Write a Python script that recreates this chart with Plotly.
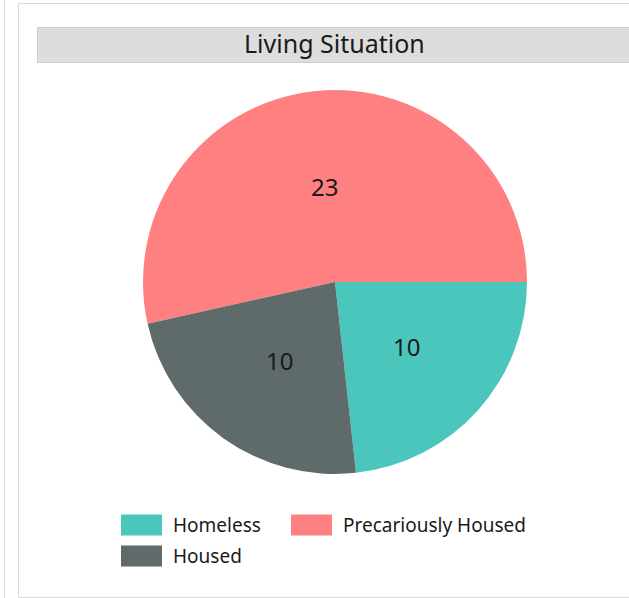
import numpy as np
import plotly.graph_objects as go

# Living situation breakdown
categories = ["Homeless", "Precariously Housed", "Housed"]
counts = [10, 23, 10]
colors = ["#4BC6BC", "#FF8080", "#5F6A6A"]

W, H = 629, 598
FONT = "Noto Sans"


def px_x(x):
    return x / W


def px_y(y):
    return 1 - y / H


fig = go.Figure()

total = sum(counts)
# Counterclockwise pie: the first slice ends at 3 o'clock (rotation=90)
rotation = 90

cx, cy, r = 335, 282, 192
fig.add_trace(go.Pie(
    labels=categories,
    values=counts,
    sort=False,
    direction="counterclockwise",
    rotation=rotation,
    marker=dict(colors=colors, line=dict(width=0)),
    textinfo="none",
    domain=dict(x=[px_x(cx - r), px_x(cx + r)], y=[px_y(cy + r), px_y(cy - r)]),
    showlegend=False,
    hoverinfo="label+value",
))

shapes = []
# outer panel frame and faint left edge line
shapes.append(dict(type="rect", xref="paper", yref="paper",
                   x0=px_x(18.5), x1=px_x(660), y0=px_y(597.5), y1=px_y(3.5),
                   line=dict(color="#d9d9d9", width=1), fillcolor="rgba(0,0,0,0)", layer="below"))
shapes.append(dict(type="line", xref="paper", yref="paper",
                   x0=px_x(4.5), x1=px_x(4.5), y0=px_y(0), y1=px_y(598),
                   line=dict(color="#dcdcdc", width=1)))
# title bar
shapes.append(dict(type="rect", xref="paper", yref="paper",
                   x0=px_x(37.5), x1=px_x(631), y0=px_y(62.5), y1=px_y(27.5),
                   line=dict(color="#cfcfcf", width=1), fillcolor="#dddddd", layer="below"))

annotations = [dict(text="Living Situation", xref="paper", yref="paper",
                    x=px_x(334), y=px_y(43), xanchor="center", yanchor="middle",
                    showarrow=False, font=dict(family=FONT, size=25, color="#1a1a1a"))]

# slice values, placed halfway out along each slice's bisector
# (math angle, counterclockwise from 3 o'clock; the first slice starts one slice-width below 3 o'clock)
start = 90 - rotation - 360 * counts[0] / total
cum = np.cumsum([0] + counts[:-1])
for v, c0 in zip(counts, cum):
    ang = np.deg2rad(start + 360 * (c0 + v / 2) / total)
    tx = cx + 0.5 * r * np.cos(ang)
    ty = cy - 0.5 * r * np.sin(ang)
    annotations.append(dict(text=str(v), xref="paper", yref="paper",
                            x=px_x(tx), y=px_y(ty), xanchor="center", yanchor="middle",
                            showarrow=False, font=dict(family=FONT, size=24, color="#1a1a1a")))

# legend: colour swatch followed by its category name, two per row
legend_slots = [(121, 525), (291, 525), (121, 556)]
sw_w, sw_h = 41, 21
for (lx, ly), name, col in zip(legend_slots, categories, colors):
    shapes.append(dict(type="rect", xref="paper", yref="paper",
                       x0=px_x(lx), x1=px_x(lx + sw_w), y0=px_y(ly + sw_h / 2), y1=px_y(ly - sw_h / 2),
                       line=dict(width=0), fillcolor=col))
    annotations.append(dict(text=name, xref="paper", yref="paper",
                            x=px_x(lx + sw_w + 9), y=px_y(ly), xanchor="left", yanchor="middle",
                            showarrow=False, font=dict(family=FONT, size=19, color="#1a1a1a")))

fig.update_layout(
    width=W, height=H,
    margin=dict(l=0, r=0, t=0, b=0),
    paper_bgcolor="white",
    plot_bgcolor="white",
    shapes=shapes,
    annotations=annotations,
)

fig.write_html("out.html")
